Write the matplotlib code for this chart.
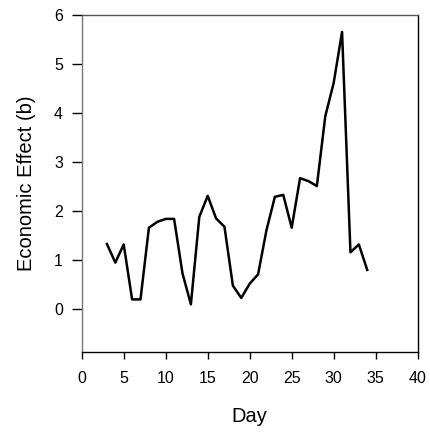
import matplotlib
matplotlib.use("Agg")
import matplotlib.pyplot as plt

plt.rcParams['font.family'] = ['Liberation Sans', 'DejaVu Sans']

days = list(range(3, 35))
effect = [1.33, 0.95, 1.32, 0.20, 0.20, 1.66, 1.78, 1.84, 1.84, 0.73,
          0.10, 1.88, 2.31, 1.85, 1.68, 0.48, 0.23, 0.52, 0.71, 1.61,
          2.29, 2.33, 1.66, 2.67, 2.61, 2.51, 3.93, 4.61, 5.65, 1.16,
          1.32, 0.80]
xticks = [0, 5, 10, 15, 20, 25, 30, 35, 40]
yticks = [0, 1, 2, 3, 4, 5, 6]

fig = plt.figure(figsize=(4.31, 4.34), dpi=100)
ax = fig.add_axes([0.1896, 0.188, 0.7794, 0.778])
ax.plot(days, effect, color='black', linewidth=1.8)
ax.set_xlim(0, 40)
ax.set_ylim(-0.88, 6)
ax.set_xticks(xticks)
ax.set_yticks(yticks)
ax.tick_params(axis='x', direction='out', length=5, width=1, pad=8.5, labelsize=11.5)
ax.tick_params(axis='y', direction='out', length=7, width=1, pad=6.5, labelsize=11.5)
ax.spines['left'].set_color('#777777')
ax.spines['top'].set_color('#555555')
ax.spines['bottom'].set_color('black')
ax.spines['right'].set_color('black')
for s in ax.spines.values():
    s.set_linewidth(1)
ax.set_xlabel('Day', fontsize=14.5, labelpad=15)
ax.set_ylabel('Economic Effect (b)', fontsize=14.5, labelpad=13)
fig.savefig('out.png', dpi=100)
